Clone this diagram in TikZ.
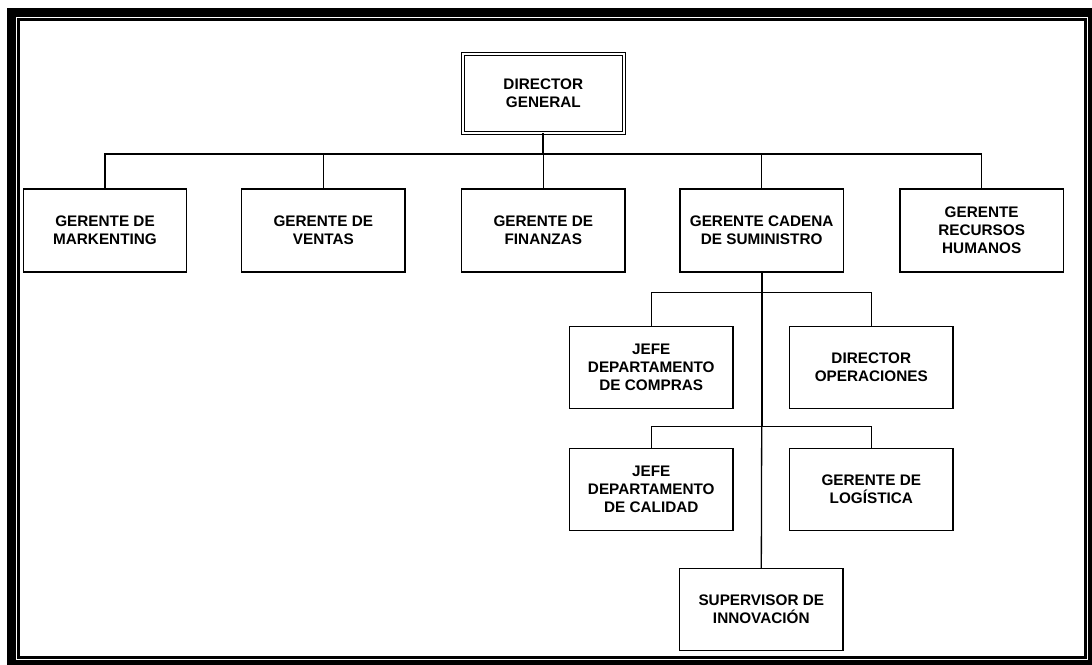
\documentclass[tikz,border=0pt]{standalone}
\usepackage{fontspec}
\setmainfont{Liberation Sans}
\begin{document}
\begin{tikzpicture}[x=1pt,y=-1pt,
  every node/.style={font=\fontsize{15.3}{17.8}\selectfont\bfseries, align=center, inner sep=0pt, outer sep=0pt},
  unitbox/.style={draw, line width=1.3pt, minimum width=163.4pt, minimum height=82pt},
  topbox/.style={draw, line width=1pt, double=white, double distance=2pt, minimum width=161.3pt, minimum height=79.3pt},
  link/.style={line width=1.3pt},
  trunk/.style={line width=2.1pt}]
\useasboundingbox (0,0) rectangle (1092,664);

% page frame: thick outer rule with thin inner rule
\draw[line width=9pt] (11.3,12.3) rectangle (1092.5,664.5);
\draw[line width=3pt] (18.7,19.2) rectangle (1085.5,657);

% top of the chart
\node[topbox] (dg) at (543.3,93.3) {DIRECTOR\\GENERAL};

% first level
\node[unitbox, minimum height=83pt] (mk) at (105,230.5) {GERENTE DE\\MARKENTING};
\node[unitbox, minimum height=83pt] (ve) at (323.3,230.5) {GERENTE DE\\VENTAS};
\node[unitbox, minimum height=83pt] (fi) at (543.3,230.5) {GERENTE DE\\FINANZAS};
\node[unitbox, minimum height=83pt] (cs) at (761.7,230.5) {GERENTE CADENA\\DE SUMINISTRO};
\node[unitbox, minimum height=83pt] (rh) at (981.7,230.5) {GERENTE\\RECURSOS\\HUMANOS};

% supply chain branch
\node[unitbox] (jc) at (651.3,367.5) {JEFE\\DEPARTAMENTO\\DE COMPRAS};
\node[unitbox] (op) at (871.3,367.5) {DIRECTOR\\OPERACIONES};
\node[unitbox] (jq) at (651.3,489.5) {JEFE\\DEPARTAMENTO\\DE CALIDAD};
\node[unitbox] (lg) at (871.3,489.5) {GERENTE DE\\LOGÍSTICA};
\node[unitbox] (sv) at (761.3,609.2) {SUPERVISOR DE\\INNOVACIÓN};

% bus junctions
\coordinate (b1) at (543.3,154);
\coordinate (b2) at (761.7,292.7);
\coordinate (b3) at (761.7,426.7);

% director to first level
\draw[trunk] (dg.south) -- (b1);
\draw[link] (b1) -| (mk.north);
\draw[link] (b1) -| (ve.north);
\draw[link] (b1) -- (fi.north);
\draw[link] (b1) -| (cs.north);
\draw[link] (b1) -| (rh.north);

% supply chain trunk and sub-buses
\draw[trunk] (cs.south) -- (b3);
\draw[link] (b3) -- (sv.north);
\draw[link] (b2) -| (jc.north);
\draw[link] (b2) -| (op.north);
\draw[link] (b3) -| (jq.north);
\draw[link] (b3) -| (lg.north);
\end{tikzpicture}
\end{document}
